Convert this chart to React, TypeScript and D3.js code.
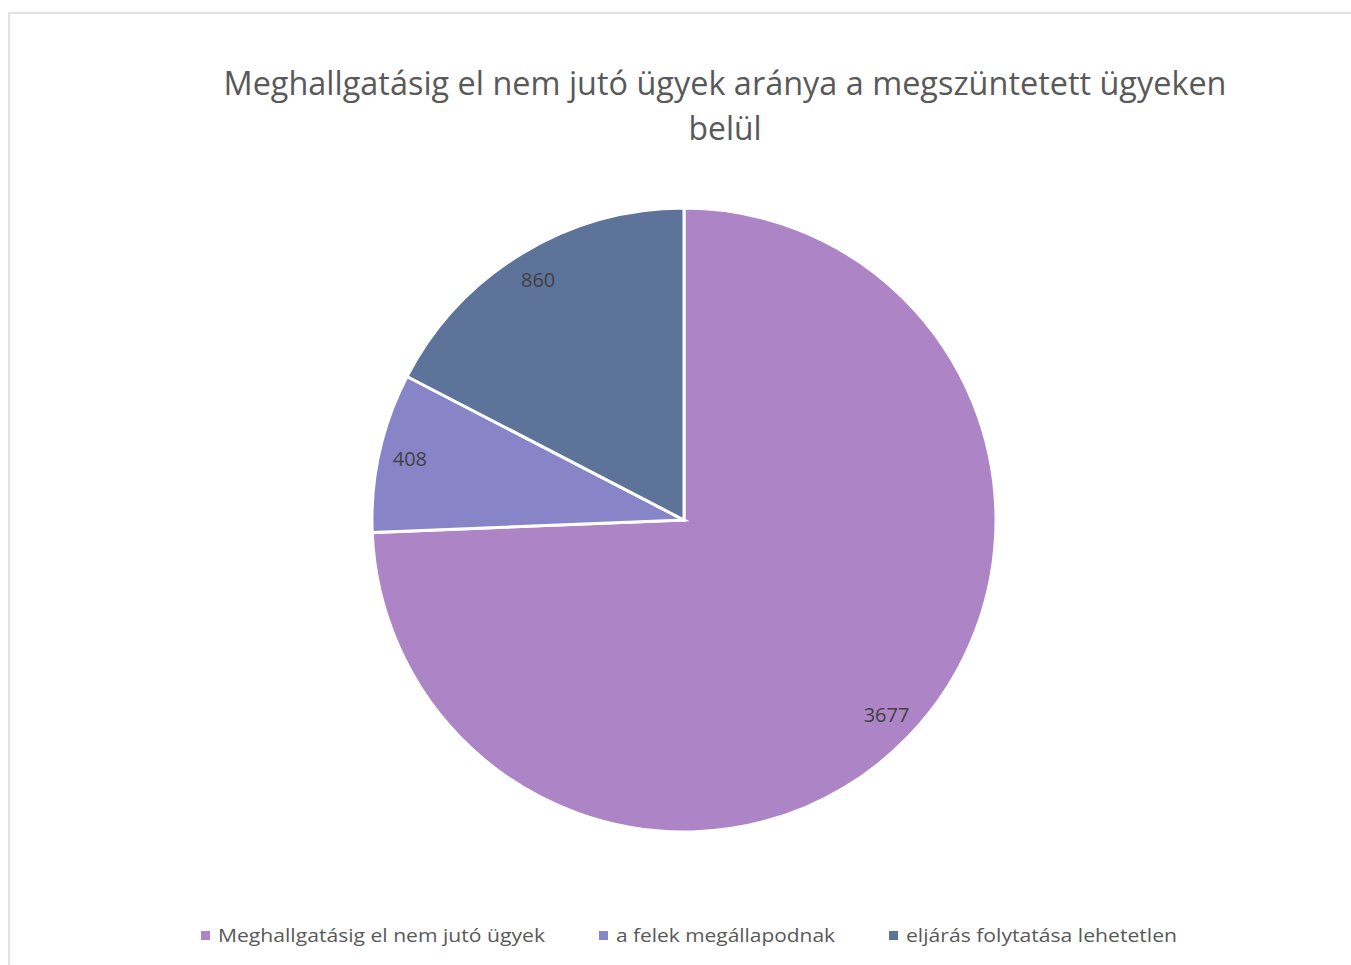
import React from "react";
import * as d3 from "d3";

const categories = ["Meghallgatásig el nem jutó ügyek", "a felek megállapodnak", "eljárás folytatása lehetetlen"];
const values = [3677, 408, 860];
const colors = ["#AD84C6", "#8784C7", "#5D739A"];
const titleLines = ["Meghallgatásig el nem jutó ügyek aránya a megszüntetett ügyeken", "belül"];

const W = 1351, H = 965;
const cx = 684, cy = 520, R = 312;
const FONT = "'Open Sans', 'Liberation Sans', sans-serif";

export default function App() {
  const data = categories.map((c, i) => ({ c, v: values[i], color: colors[i] }));
  const pie = d3.pie<any>().value((d) => d.v).sort(null);
  const arcs = pie(data);
  const arc = d3.arc<any>().innerRadius(0).outerRadius(R);
  const labelArc = d3.arc<any>().innerRadius(R * 0.9).outerRadius(R * 0.9);

  const legendX = [205, 603, 893];
  const legendW = [327, 219, 271];

  return (
    <svg width={W} height={H} style={{ position: "absolute", left: 0, top: 0, display: "block" }}>
      <rect x={0} y={0} width={W} height={H} fill="#fff" />
      <rect x={9} y={13} width={1400} height={1000} fill="#fff" stroke="#d9d9d9" strokeWidth={1.5} />
      <g fontFamily={FONT} fill="#595959">
        <text x={725} y={95} textAnchor="middle" fontSize={32} textLength={1003} lengthAdjust="spacingAndGlyphs">{titleLines[0]}</text>
        <text x={725} y={140} textAnchor="middle" fontSize={32} textLength={73} lengthAdjust="spacingAndGlyphs">{titleLines[1]}</text>
      </g>
      <g transform={`translate(${cx},${cy})`}>
        {arcs.map((a, i) => (
          <path key={i} d={arc(a) as string} fill={a.data.color} stroke="#fff" strokeWidth={3} strokeLinejoin="miter" />
        ))}
        {arcs.map((a, i) => {
          const [x, y] = labelArc.centroid(a);
          return (
            <text key={i} x={x} y={y} dy="0.35em" textAnchor="middle" fontFamily={FONT} fontSize={20} fill="#404040">
              {a.data.v}
            </text>
          );
        })}
      </g>
      <g fontFamily={FONT} fontSize={19} fill="#595959">
        {data.map((d, i) => (
          <g key={i}>
            <rect x={legendX[i] - 4} y={931} width={9} height={9} fill={d.color} />
            <text x={legendX[i] + 13} y={942} textLength={legendW[i]} lengthAdjust="spacingAndGlyphs">{d.c}</text>
          </g>
        ))}
      </g>
    </svg>
  );
}
